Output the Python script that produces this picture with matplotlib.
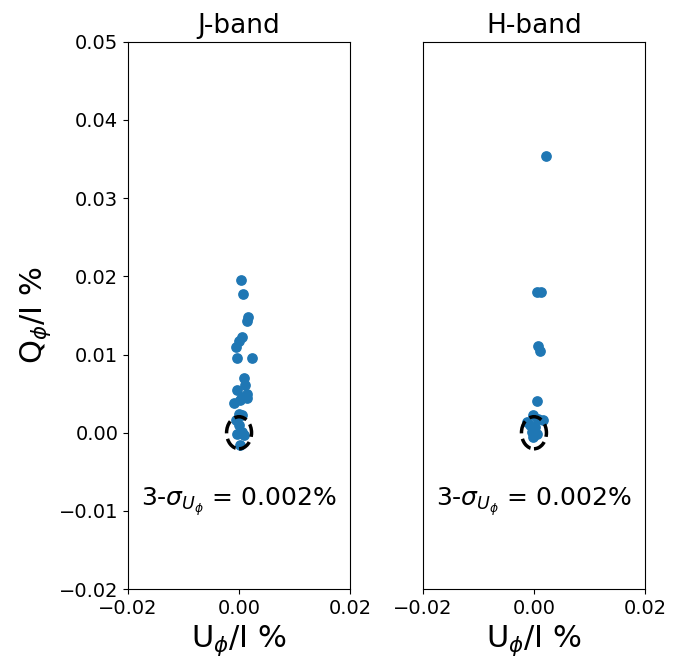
import numpy as np
import matplotlib.pyplot as plt
from matplotlib.patches import Ellipse

# J-band points (U_phi/I, Q_phi/I)
j_u = [0.0004, 0.0007, 0.0017, 0.0014, 0.0006, 0.0000, -0.0005, -0.0004, 0.0023,
       0.0008, 0.0011, -0.0004, 0.0014, 0.0005, 0.0014, -0.0009, 0.0002, -0.0001,
       0.0006, -0.0005, 0.0000, 0.0005, 0.0008, -0.0003, 0.0002]
j_q = [0.0195, 0.0177, 0.0148, 0.0143, 0.0123, 0.0117, 0.0110, 0.0096, 0.0096,
       0.0070, 0.0061, 0.0055, 0.0050, 0.0046, 0.0044, 0.0038, 0.0042, 0.0024,
       0.0023, 0.0016, 0.0010, 0.0001, -0.0003, -0.0001, -0.0016]

# H-band points
h_u = [0.0021, 0.0006, 0.0013, 0.0008, 0.0010, 0.0006, -0.0001, -0.0013, 0.0017,
       0.0008, 0.0002, -0.0004, 0.0005, -0.0001, -0.0007]
h_q = [0.0354, 0.0180, 0.0180, 0.0111, 0.0105, 0.0040, 0.0023, 0.0014, 0.0016,
       0.0018, 0.0008, 0.0001, -0.0001, -0.0005, 0.0010]

sigma_txt = r'3-$\sigma_{U_\phi}$ = 0.002%'

fig = plt.figure(figsize=(6.85, 6.62), dpi=100)
ax1 = fig.add_axes([0.187, 0.110, 0.324, 0.827])
ax2 = fig.add_axes([0.6175, 0.110, 0.324, 0.827])

for ax, u, q, title in [(ax1, j_u, j_q, 'J-band'), (ax2, h_u, h_q, 'H-band')]:
    ax.scatter(u, q, s=45, color='#1f77b4', zorder=2)
    ax.add_patch(Ellipse((0, 0), 0.0045, 0.0041, fill=False, ls='--', lw=2.5,
                         color='black', zorder=3))
    ax.set_xlim(-0.02, 0.02)
    ax.set_ylim(-0.02, 0.05)
    ax.set_xticks([-0.02, 0.0, 0.02])
    ax.tick_params(labelsize=14)
    ax.set_title(title, fontsize=19)
    ax.set_xlabel(r'U$_\phi$/I %', fontsize=22)
    ax.text(0, -0.0088, sigma_txt, ha='center', va='center', fontsize=18)

ax1.set_ylabel(r'Q$_\phi$/I %', fontsize=22)
ax2.set_yticks([])

fig.savefig('out.png', dpi=100)
